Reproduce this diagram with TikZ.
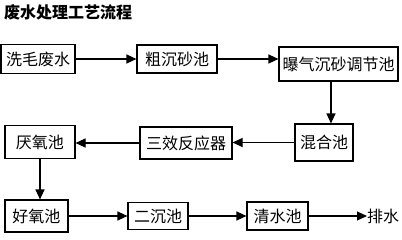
\documentclass[tikz,border=0pt]{standalone}
\usepackage{fontspec}
\newfontfamily\cjk{Noto Sans CJK SC}
\newfontfamily\cjkb{Noto Sans CJK SC Black}
\usetikzlibrary{arrows.meta,calc}
\begin{document}
\begin{tikzpicture}[x=1pt,y=-1pt,
  box/.style={draw,line width=1.1pt,inner sep=0pt,font=\cjk\fontsize{16}{17}\selectfont,anchor=center},
  arr/.style={line width=1.1pt,-{Triangle[length=10pt,width=9pt]}}]
\useasboundingbox (0,0) rectangle (402,239);
\node[anchor=west,font=\cjkb\fontsize{16}{17}\selectfont,inner sep=0pt] (title) at (4,12) {废水处理工艺流程};
% row 1
\node[box,minimum width=74pt,minimum height=29pt] (n1) at (38,59) {洗毛废水};
\node[box,minimum width=80pt,minimum height=28pt] (n2) at (177,59) {粗沉砂池};
\node[box,minimum width=119pt,minimum height=34pt] (n3) at (338.5,64) {曝气沉砂调节池};
% row 2
\node[box,minimum width=58pt,minimum height=37pt] (n4) at (324,142.5) {混合池};
\node[box,minimum width=92pt,minimum height=32pt] (n5) at (186,143) {三效反应器};
\node[box,minimum width=70pt,minimum height=33pt] (n6) at (40,142) {厌氧池};
% row 3
\node[box,minimum width=63pt,minimum height=32pt] (n7) at (36.5,216) {好氧池};
\node[box,minimum width=60pt,minimum height=27pt] (n8) at (158,216) {二沉池};
\node[box,minimum width=61pt,minimum height=28pt] (n9) at (277.5,216) {清水池};
\node[font=\cjk\fontsize{16}{17}\selectfont,inner sep=0pt,anchor=west] (out) at (367,216) {排水};
% connectors
\draw[arr] (n1.east) -- (n2.west);
\draw[arr] (n2.east) -- (n2.east -| n3.west);
\draw[arr] ([xshift=7pt]n4.north |- n3.south) -- ([xshift=7pt]n4.north);
\draw[arr] (n4.west) -- (n4.west -| n5.east);
\draw[arr] (n5.west) -- (n5.west -| n6.east);
\draw[arr] (n6.south) -- (n6.south |- n7.north);
\draw[arr] (n7.east) -- (n7.east -| n8.west);
\draw[arr] (n8.east) -- (n8.east -| n9.west);
\draw[arr] (n9.east) -- (out.west);
\end{tikzpicture}
\end{document}
